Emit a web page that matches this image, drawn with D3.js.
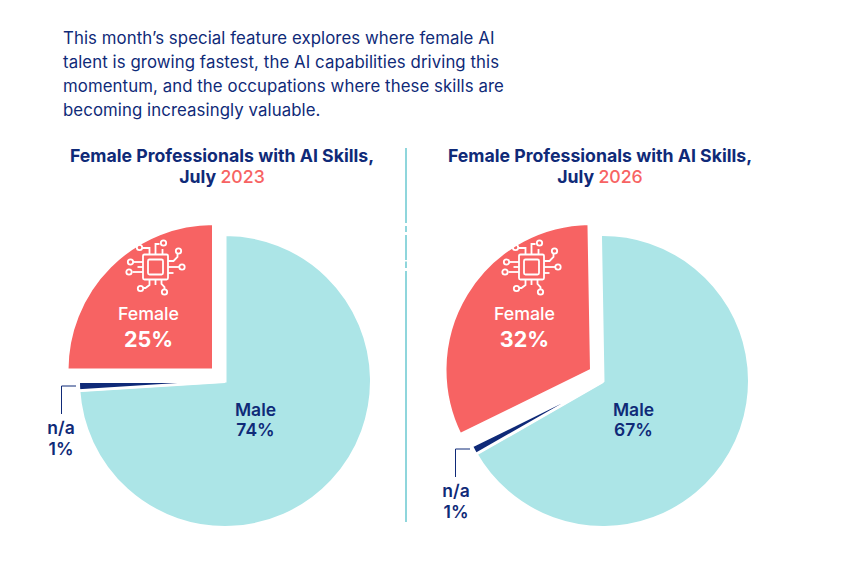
<!DOCTYPE html>
<html>
<head>
<meta charset="utf-8">
<script src="https://cdn.jsdelivr.net/npm/d3@7"></script>
<style>
  html, body { margin: 0; padding: 0; background: #fff; }
  text { font-family: Inter, "Open Sans", sans-serif; }
</style>
</head>
<body>
<script>
const introLines = [
  "This month\u2019s special feature explores where female AI",
  "talent is growing fastest, the AI capabilities driving this",
  "momentum, and the occupations where these skills are",
  "becoming increasingly valuable."
];
const titleText = "Female Professionals with AI Skills,";
const categories = ["Male", "n/a", "Female"];
const shares2023 = [74, 1, 25];
const shares2026 = [67, 1, 32];

const width = 865;
const height = 567;
const navy = "#0f2a78";
const coral = "#f76363";
const aqua = "#ace5e7";
const radius = 146.5;

const svg = d3.select("body").append("svg")
  .attr("width", width)
  .attr("height", height)
  .style("display", "block");

svg.selectAll("text.intro")
  .data(introLines)
  .enter()
  .append("text")
  .attr("class", "intro")
  .attr("x", 63)
  .attr("y", (d, i) => 44 + i * 24)
  .attr("font-size", 16.8)
  .attr("letter-spacing", 0.08)
  .attr("fill", navy)
  .text(d => d);

// the divider has a few small breaks in it
svg.append("line")
  .attr("x1", 406).attr("x2", 406)
  .attr("y1", 148).attr("y2", 522)
  .attr("stroke", "#8fd6dc")
  .attr("stroke-width", 2)
  .attr("stroke-dasharray", "75 3 6 3 25 1.5 6.5 3 400");

// chip icon, drawn around 0,0
function drawChip(g) {
  g.attr("fill", "none").attr("stroke", "#fff").attr("stroke-width", 1.8);
  g.append("rect").attr("x", -12.5).attr("y", -12.5).attr("width", 25).attr("height", 25).attr("rx", 1.5);
  g.append("rect").attr("x", -7.5).attr("y", -7.5).attr("width", 15).attr("height", 15).attr("rx", 1.5);
  const traces = [
    "M12.5,-6H18L22,-10V-13", "M12.5,0H24", "M12.5,6H18", "M-12.5,-5H-22", "M-12.5,5H-23", "M-12.5,0H-18",
    "M-6,12.5V18L-10,21H-12", "M0,12.5V18", "M6,12.5V17L9,20V22",
    "M-6,-12.5V-19H-13", "M0,-12.5V-23H4", "M7,-12.5V-18"
  ];
  g.selectAll("path").data(traces).enter().append("path").attr("d", d => d);
  const pads = [[23,-16],[26.5,0],[-25,-5],[-26.5,5],[-15,21.5],[9,25],[-16,-19.5],[8,-24]];
  g.selectAll("circle").data(pads).enter().append("circle")
    .attr("cx", d => d[0]).attr("cy", d => d[1]).attr("r", 2.7);
}

function drawPie(o) {
  const g = svg.append("g");
  const pie = d3.pie().sort(null).value(d => d.value)
    .startAngle(o.rotate * Math.PI / 180)
    .endAngle((360 + o.rotate) * Math.PI / 180);
  const arc = d3.arc().innerRadius(0).outerRadius(radius);
  const slices = pie(categories.map((c, i) => ({ name: c, value: o.values[i] })));

  g.selectAll("path")
    .data(slices)
    .enter()
    .append("path")
    .attr("d", arc)
    .attr("transform", d => d.data.name === "Female"
      ? `translate(${o.cx - 11.5},${o.cy - 11})`
      : `translate(${o.cx},${o.cy + (d.data.name === "n/a" ? 0.5 : 0)})`)
    .attr("fill", d => d.data.name === "Male" ? aqua : d.data.name === "Female" ? coral : navy)
    .attr("stroke", "#fff")
    .attr("stroke-width", 3);

  // title
  const title = svg.append("text")
    .attr("text-anchor", "middle")
    .attr("font-size", 17.7)
    .attr("font-weight", 700)
    .attr("fill", navy);
  title.append("tspan").attr("x", o.titleX).attr("y", 162).text(titleText);
  title.append("tspan").attr("x", o.titleX).attr("y", 183).text("July ");
  title.select("tspan:last-child").append("tspan").attr("fill", coral).attr("font-weight", 500).text(o.year);

  const label = (x, y, txt, color, size, weight) => svg.append("text")
    .attr("x", x).attr("y", y)
    .attr("text-anchor", "middle")
    .attr("font-size", size)
    .attr("font-weight", weight)
    .attr("fill", color)
    .text(txt);

  label(o.cx + 30.5, 416, "Male", navy, 17.5, 600);
  label(o.cx + 30.5, 436, o.values[0] + "%", navy, 17.5, 600);
  label(o.femaleX, 320, "Female", "#fff", 17.8, 500);
  label(o.femaleX, 347, o.values[2] + "%", "#fff", 21.5, 700);
  label(o.naX, o.naY, "n/a", navy, 17.5, 600);
  label(o.naX, o.naY + 21, o.values[1] + "%", navy, 17.5, 600);

  svg.append("path")
    .attr("d", d3.line()(o.leader))
    .attr("fill", "none")
    .attr("stroke", navy)
    .attr("stroke-width", 1);

  drawChip(svg.append("g").attr("transform", `translate(${o.femaleX + 7},267)`));
}

drawPie({
  values: shares2023, year: "2023", cx: 225, cy: 381, rotate: 0, titleX: 222,
  femaleX: 148.5, naX: 61, naY: 434,
  leader: [[76, 386], [61.5, 386], [61.5, 414]]
});
drawPie({
  values: shares2026, year: "2026", cx: 603, cy: 381, rotate: -1, titleX: 600,
  femaleX: 524.5, naX: 456, naY: 497,
  leader: [[470, 449], [455.5, 449], [455.5, 477]]
});
</script>
</body>
</html>
